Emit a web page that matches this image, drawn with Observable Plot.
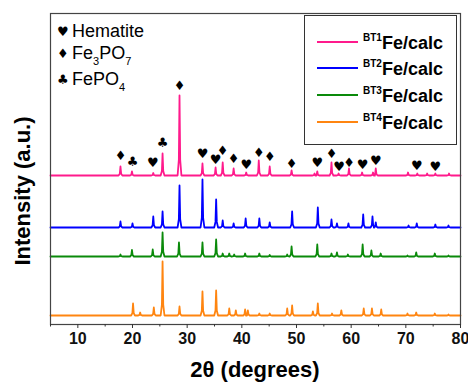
<!DOCTYPE html>
<html>
<head>
<meta charset="utf-8">
<script src="https://cdn.jsdelivr.net/npm/d3@7"></script>
<script src="https://cdn.jsdelivr.net/npm/@observablehq/plot@0.6"></script>
<style>
  html, body { margin: 0; padding: 0; background: #fff; }
  #wrap { position: relative; width: 468px; height: 383px; font-family: "Liberation Sans", Arial, sans-serif; overflow: hidden; }
  #wrap svg { position: absolute; left: 0; top: 0; }
  .ov { position: absolute; white-space: nowrap; color: #000; }
  .phase { font-size: 18px; line-height: 1; }
  .phase .sym { display: inline-block; width: 15px; font-family: "DejaVu Sans", sans-serif; font-size: 13px; vertical-align: 1px; }
  .phase sub { font-size: 11px; vertical-align: -6px; line-height: 0; }
  #box { position: absolute; left: 304px; top: 15px; width: 153px; height: 130px; border: 1.5px solid #333; box-sizing: border-box; background: #fff; }
  .lg { position: absolute; font-weight: bold; font-size: 18px; line-height: 1; }
  .lg sup { font-size: 10px; vertical-align: 8px; line-height: 0; }
  .sw { position: absolute; height: 2.2px; width: 41px; }
  .title { position: absolute; width: 240px; height: 26px; line-height: 26px; text-align: center; font-weight: bold; font-size: 22px; color: #000; white-space: nowrap; }
</style>
</head>
<body>
<div id="wrap"></div>
<script>
// ---- data ----
const seriesNames = ["BT1", "BT2", "BT3", "BT4"];
const seriesColors = ["#ff1a8c", "#0000ff", "#0a8a0a", "#ff8510"];
const baselines = [149, 97, 68, 9];

const bt1Angles  = [17.8, 19.9, 23.8, 25.5, 28.6, 32.8, 35.2, 36.5, 38.5, 40.8, 43.1, 45.1, 49.1, 53.3, 53.8, 56.4, 57.7, 59.6, 62.0, 64.0, 64.5, 70.4, 72.1, 73.9, 75.4, 77.9];
const bt1Heights = [9, 4, 2.5, 22, 80, 12, 8, 13, 7, 3, 15, 9, 5, 2, 4, 13, 2, 7, 3, 3, 7, 3, 2, 2, 2, 2];

const bt2Angles  = [17.8, 20.0, 23.8, 25.5, 28.6, 32.8, 35.3, 36.5, 38.5, 40.7, 43.2, 45.1, 49.2, 53.9, 56.4, 57.4, 59.5, 62.2, 63.9, 64.5, 70.5, 72.0, 75.4, 77.8];
const bt2Heights = [6, 4, 11, 16, 42, 48, 28, 7, 4, 9, 9, 5, 16, 20, 8, 4, 4, 13, 11, 5, 2, 4, 3, 2];

const bt3Angles  = [17.8, 19.9, 23.7, 25.5, 28.5, 32.8, 35.3, 36.5, 37.7, 38.6, 40.6, 43.2, 45.1, 48.3, 49.1, 53.8, 56.4, 57.4, 59.4, 62.1, 63.7, 65.4, 70.3, 71.9, 75.3, 77.8];
const bt3Heights = [2, 6.5, 7, 24, 14, 14, 17, 3, 3, 2, 3, 3, 1.5, 2, 10, 12, 3, 4, 2, 12, 6, 3, 1, 4, 3, 1];

const bt4Angles  = [20.1, 21.4, 23.9, 25.5, 28.6, 32.8, 35.3, 37.7, 38.9, 40.6, 41.1, 43.2, 45.1, 48.3, 49.2, 53.0, 53.9, 56.5, 58.2, 62.3, 63.8, 65.5, 70.3, 71.9, 75.3, 77.8];
const bt4Heights = [12, 3, 8, 54, 9, 24, 25, 7, 5, 6, 5, 2, 2, 7, 10, 4, 12, 2, 5, 7, 7, 6, 2, 3, 2, 1];

const markerAngles  = [17.8, 20.0, 23.7, 25.5, 28.6, 32.8, 35.2, 36.5, 38.5, 40.8, 43.1, 45.1, 49.1, 53.8, 56.4, 57.8, 59.6, 62.1, 64.5, 72.0, 75.4];
const markerSymbols = ["♦", "♣", "♥", "♣", "♦", "♥", "♥", "♦", "♦", "♥", "♦", "♦", "♦", "♥", "♦", "♥", "♦", "♥", "♥", "♥", "♥"];
const markerLevels  = [169, 163, 162, 182, 239, 171, 165, 174, 166, 160, 172, 168, 161, 162, 171, 158, 162, 160, 164, 159, 158];

const majorTicks = [10, 20, 30, 40, 50, 60, 70, 80];
const minorTicks = [5, 15, 25, 35, 45, 55, 65, 75];

// ---- build line table from the peak lists ----
const peakSets = [[bt1Angles, bt1Heights], [bt2Angles, bt2Heights], [bt3Angles, bt3Heights], [bt4Angles, bt4Heights]];
const rows = [];
peakSets.forEach(([angles, heights], i) => {
  const s = seriesNames[i], b = baselines[i];
  rows.push({s, x: 5, y: b});
  angles.forEach((a, k) => {
    const h = heights[k];
    rows.push({s, x: a - 0.35, y: b});
    rows.push({s, x: a - 0.12, y: b + h * 0.2});
    rows.push({s, x: a, y: b + h});
    rows.push({s, x: a + 0.12, y: b + h * 0.2});
    rows.push({s, x: a + 0.35, y: b});
  });
  rows.push({s, x: 80, y: b});
});
const markers = markerAngles.map((a, i) => ({x: a, y: markerLevels[i], t: markerSymbols[i]}));

const chart = Plot.plot({
  width: 468,
  height: 383,
  marginLeft: 50,
  marginRight: 8,
  marginTop: 13,
  marginBottom: 59,
  style: {fontFamily: "'Liberation Sans', Arial, sans-serif", background: "transparent"},
  x: {domain: [5, 80], axis: null},
  y: {domain: [0, 311], axis: null},
  color: {domain: seriesNames, range: seriesColors},
  marks: [
    Plot.line(rows, {x: "x", y: "y", z: "s", stroke: "s", strokeWidth: 1.8}),
    Plot.text(markers, {x: "x", y: "y", text: "t", fontSize: 13, fill: "#000", fontFamily: "DejaVu Sans"}),
    Plot.frame({stroke: "#444", strokeWidth: 1.2}),
    Plot.axisX(majorTicks, {ticks: majorTicks, label: null, tickSize: 4, tickPadding: 4, fontSize: 16, fontWeight: "bold", stroke: "#333", fill: "#111", tickFormat: d => String(d)}),
    Plot.axisX(minorTicks, {ticks: minorTicks, label: null, tickSize: 2.5, tickFormat: () => "", stroke: "#333"})
  ]
});

const wrap = document.getElementById("wrap");
wrap.appendChild(chart);

function ov(html, cls, style) {
  const d = document.createElement("div");
  d.className = cls || "ov";
  d.innerHTML = html;
  Object.assign(d.style, style);
  wrap.appendChild(d);
  return d;
}

// phase legend (top-left)
ov('<span class="sym">♥</span>Hematite', "ov phase", {left: "57px", top: "22px"});
ov('<span class="sym">♦</span>Fe<sub>3</sub>PO<sub>7</sub>', "ov phase", {left: "57px", top: "44px"});
ov('<span class="sym">♣</span>FePO<sub>4</sub>', "ov phase", {left: "57px", top: "70px"});

// series legend box (top-right)
const box = document.createElement("div");
box.id = "box";
wrap.appendChild(box);
const lineYs = [42, 68, 95, 122];
seriesNames.forEach((n, i) => {
  const sw = document.createElement("div");
  sw.className = "sw";
  sw.style.left = "317px";
  sw.style.top = (lineYs[i] - 1) + "px";
  sw.style.background = seriesColors[i];
  wrap.appendChild(sw);
  ov('<sup>' + n + '</sup>Fe/calc', "ov lg", {left: "363px", top: (lineYs[i] - 8) + "px"});
});

// axis titles
ov("2θ (degrees)", "title", {left: (255 - 120) + "px", top: (370 - 13) + "px"});
ov("Intensity (a.u.)", "title", {left: (23 - 120) + "px", top: (191 - 13) + "px", transform: "rotate(-90deg)"});
</script>
</body>
</html>
